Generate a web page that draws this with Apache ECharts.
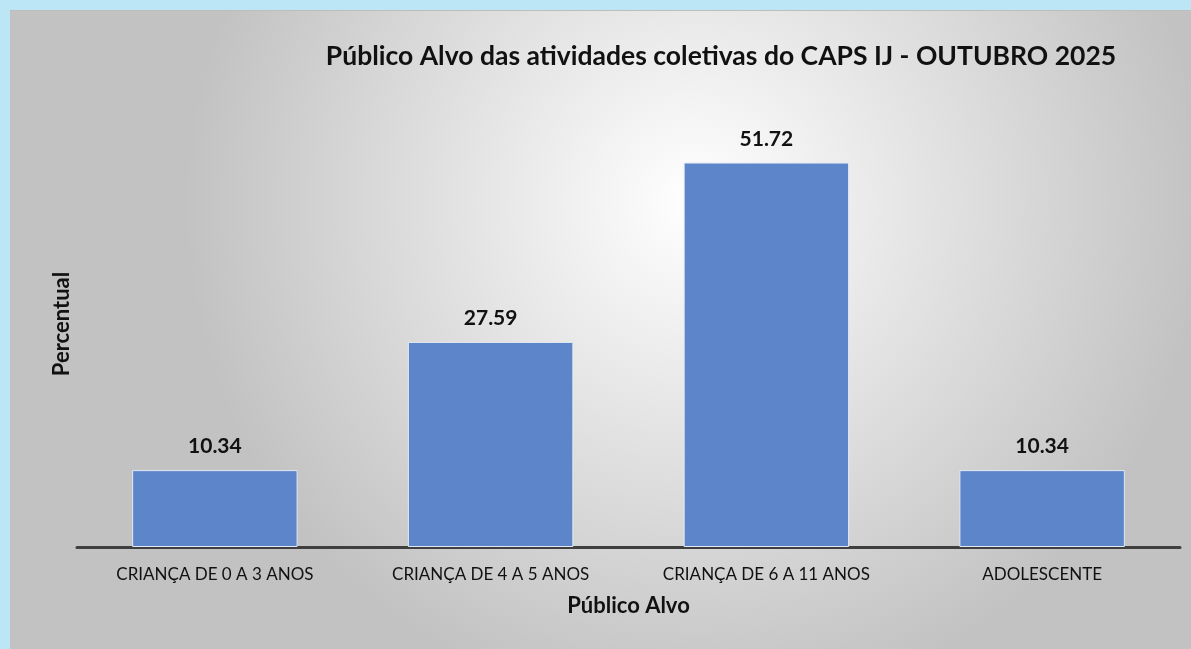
<!DOCTYPE html>
<html lang="pt">
<head>
    <meta charset="UTF-8">
    <title>Público Alvo</title>
    <script src="https://cdn.jsdelivr.net/npm/echarts@6/dist/echarts.min.js"></script>
    <style>
        html, body { margin: 0; padding: 0; background: #bce5f5; }
        #main { position: absolute; left: 10px; top: 10px; width: 1181px; height: 639px; border-top: 1px solid #bdbdbd; box-sizing: border-box; }
    </style>
</head>
<body>
<div id="main"></div>
<script>
    // dados
    var categorias = ['CRIANÇA DE 0 A 3 ANOS', 'CRIANÇA DE 4 A 5 ANOS', 'CRIANÇA DE 6 A 11 ANOS', 'ADOLESCENTE'];
    var percentual = [10.34, 27.59, 51.72, 10.34];

    var fonte = 'Lato, "Open Sans", sans-serif';
    var chart = echarts.init(document.getElementById('main'));
    var option = {
        backgroundColor: {
            type: 'radial', x: 0.58, y: 0.3, r: 0.8,
            colorStops: [
                { offset: 0, color: '#ffffff' },
                { offset: 1, color: '#c2c2c2' }
            ]
        },
        textStyle: { fontFamily: fonte },
        title: {
            text: 'Público Alvo das atividades coletivas do CAPS IJ - OUTUBRO 2025',
            left: 706, top: 27, textAlign: 'center',
            textStyle: { fontSize: 26.5, fontWeight: 'bold', color: '#111', fontFamily: fonte }
        },
        grid: { left: 67, right: 11, top: 90, bottom: 102, containLabel: false },
        xAxis: {
            type: 'category',
            data: categorias,
            name: 'Público Alvo',
            nameLocation: 'middle',
            nameGap: 48,
            nameTextStyle: { fontSize: 22, fontWeight: 'bold', color: '#111' },
            axisLine: { lineStyle: { color: '#3f3f3f', width: 3 } },
            axisTick: { show: false },
            axisLabel: { fontSize: 17, color: '#111', margin: 19 }
        },
        yAxis: {
            type: 'value',
            min: 0, max: 60,
            name: 'Percentual',
            nameLocation: 'middle',
            nameGap: 4,
            nameTextStyle: { fontSize: 22, fontWeight: 'bold', color: '#111' },
            axisLabel: { show: false },
            axisLine: { show: false },
            axisTick: { show: false },
            splitLine: { show: false }
        },
        series: [{
            type: 'bar',
            data: percentual,
            barWidth: '60%',
            itemStyle: { color: '#5c85ca', borderColor: '#e3e9f4', borderWidth: 1 },
            label: {
                show: true, position: 'top', distance: 13,
                fontSize: 21, fontWeight: 'bold', color: '#111',
                formatter: function (p) { return p.value.toFixed(2); }
            }
        }]
    };
    chart.setOption(option);
</script>
</body>
</html>
